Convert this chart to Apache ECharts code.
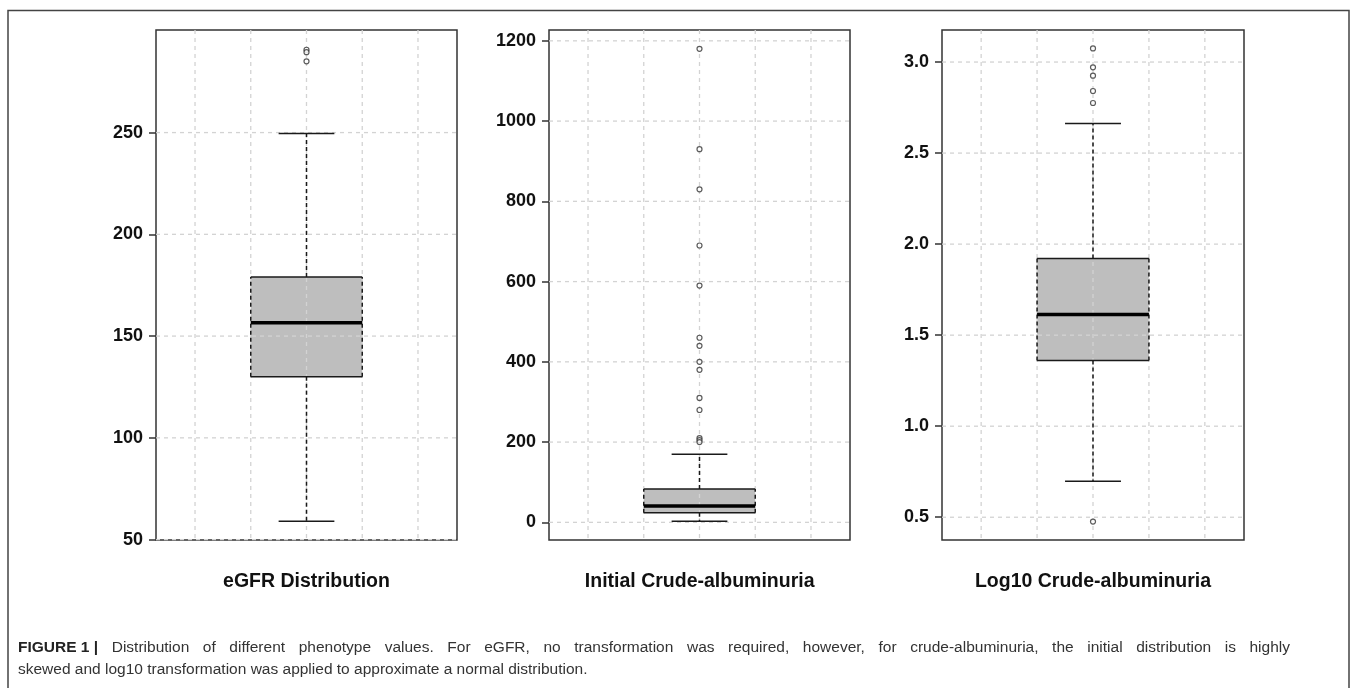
<!DOCTYPE html>
<html>
<head>
<meta charset="utf-8">
<script src="https://cdn.jsdelivr.net/npm/echarts@6/dist/echarts.min.js"></script>
<style>
html,body{margin:0;padding:0;background:#fff;}
#chart{width:1358px;height:688px;}
</style>
</head>
<body>
<div id="chart"></div>
<script>
// ---- data ----
const panelTitles = ['eGFR Distribution', 'Initial Crude-albuminuria', 'Log10 Crude-albuminuria'];
// [low whisker, Q1, median, Q3, high whisker]
const egfrBox = [59, 130, 156.5, 179, 249.5];
const egfrOutliers = [290.7, 289.5, 285];
const crudeBox = [2.5, 24, 41, 83, 170];
const crudeOutliers = [1180, 930, 830, 690, 590, 460, 440, 400, 380, 310, 280, 210, 205, 200];
const logBox = [0.698, 1.361, 1.614, 1.921, 2.663];
const logOutliers = [3.075, 2.971, 2.925, 2.841, 2.775, 0.476];
const egfrTicks = [50, 100, 150, 200, 250];
const crudeTicks = [0, 200, 400, 600, 800, 1000, 1200];
const logTicks = [0.5, 1.0, 1.5, 2.0, 2.5, 3.0];
const xGridValues = [0.6, 0.8, 1.0, 1.2, 1.4];
const captionBold = 'FIGURE 1 |';
const captionLine1 = 'Distribution of different phenotype values. For eGFR, no transformation was required, however, for crude-albuminuria, the initial distribution is highly';
const captionLine2 = 'skewed and log10 transformation was applied to approximate a normal distribution.';

// ---- chart ----
const chart = echarts.init(document.getElementById('chart'), null, {renderer: 'canvas'});

const panels = [
  {box: egfrBox, out: egfrOutliers, ticks: egfrTicks, min: 49.8, max: 300.4, fmt: v => String(v)},
  {box: crudeBox, out: crudeOutliers, ticks: crudeTicks, min: -44, max: 1227, fmt: v => String(v)},
  {box: logBox, out: logOutliers, ticks: logTicks, min: 0.375, max: 3.176, fmt: v => Number(v).toFixed(1)}
];
const gridPos = [
  {left: 156, top: 30, width: 301, height: 510},
  {left: 549, top: 30, width: 301, height: 510},
  {left: 942, top: 30, width: 302, height: 510}
];
const XMIN = 0.46, XMAX = 1.54;
const FONT = '"Liberation Sans", Arial, Helvetica, sans-serif';

function gridV(params, api) {
  const cs = params.coordSys;
  const p = api.coord([api.value(0), api.value(1)]);
  return {type: 'line', shape: {x1: p[0], y1: cs.y, x2: p[0], y2: cs.y + cs.height},
    style: {stroke: '#d3d3d3', lineWidth: 1.3, lineDash: [4, 4]}};
}
function gridH(params, api) {
  const cs = params.coordSys;
  const p = api.coord([api.value(0), api.value(1)]);
  return {type: 'line', shape: {x1: cs.x, y1: p[1], x2: cs.x + cs.width, y2: p[1]},
    style: {stroke: '#d3d3d3', lineWidth: 1.3, lineDash: [4, 4]}};
}
function renderBoxFill(params, api) {
  const x = api.value(0), q1 = api.value(2), q3 = api.value(4);
  const tl = api.coord([x - 0.2, q3]), br = api.coord([x + 0.2, q1]);
  return {type: 'rect', shape: {x: tl[0], y: tl[1], width: br[0] - tl[0], height: br[1] - tl[1]}, style: {fill: '#bebebe'}};
}
function renderBoxLines(params, api) {
  const x = api.value(0), lo = api.value(1), q1 = api.value(2), md = api.value(3), q3 = api.value(4), hi = api.value(5);
  const c = (a, b) => api.coord([a, b]);
  const ln = (p1, p2, style) => ({type: 'line', shape: {x1: p1[0], y1: p1[1], x2: p2[0], y2: p2[1]}, style});
  const solid = {stroke: '#1a1a1a', lineWidth: 1.5};
  const dashed = {stroke: '#1a1a1a', lineWidth: 1.5, lineDash: [4, 3]};
  return {type: 'group', children: [
    ln(c(x - 0.2, q3), c(x + 0.2, q3), solid),
    ln(c(x - 0.2, q1), c(x + 0.2, q1), solid),
    ln(c(x - 0.2, q1), c(x - 0.2, q3), dashed),
    ln(c(x + 0.2, q1), c(x + 0.2, q3), dashed),
    ln(c(x, q3), c(x, hi), dashed),
    ln(c(x, q1), c(x, lo), dashed),
    ln(c(x - 0.1, hi), c(x + 0.1, hi), solid),
    ln(c(x - 0.1, lo), c(x + 0.1, lo), solid),
    ln(c(x - 0.2, md), c(x + 0.2, md), {stroke: '#000', lineWidth: 3.5})
  ]};
}

const grids = [], xAxes = [], yAxes = [], series = [];
panels.forEach((p, i) => {
  grids.push(Object.assign({show: true, borderColor: '#333', borderWidth: 1.5, backgroundColor: 'transparent', containLabel: false}, gridPos[i]));
  xAxes.push({gridIndex: i, type: 'value', min: XMIN, max: XMAX, show: false});
  yAxes.push({
    gridIndex: i, type: 'value', min: p.min, max: p.max,
    axisLine: {show: false},
    splitLine: {show: false},
    axisTick: {show: true, inside: false, length: 7, lineStyle: {color: '#333', width: 1.5}, customValues: p.ticks},
    axisLabel: {show: true, customValues: p.ticks, margin: 13, color: '#111', fontSize: 18, fontWeight: 'bold', fontFamily: FONT, formatter: p.fmt, showMinLabel: true, showMaxLabel: true}
  });
  const boxData = [[1].concat(p.box)];
  series.push({type: 'custom', xAxisIndex: i, yAxisIndex: i, z: 2, silent: true, renderItem: renderBoxFill, data: boxData});
  series.push({type: 'custom', xAxisIndex: i, yAxisIndex: i, z: 3, silent: true, renderItem: gridV,
    data: xGridValues.map(v => [v, p.min])});
  series.push({type: 'custom', xAxisIndex: i, yAxisIndex: i, z: 3, silent: true, renderItem: gridH,
    data: p.ticks.map(v => [XMIN, v])});
  series.push({type: 'custom', xAxisIndex: i, yAxisIndex: i, z: 4, silent: true, renderItem: renderBoxLines, data: boxData});
  series.push({type: 'scatter', xAxisIndex: i, yAxisIndex: i, z: 5, silent: true,
    symbol: 'circle', symbolSize: 5,
    itemStyle: {color: '#fff', borderColor: '#333', borderWidth: 1.2},
    data: p.out.map(v => [1, v])});
});

const titleCenters = [306.5, 699.7, 1093];
const CAP_SIZE = 15.5;
const graphic = [
  {type: 'rect', silent: true, shape: {x: 8, y: 10.5, width: 1341, height: 700},
    style: {fill: null, stroke: '#444', lineWidth: 1.5}},
  {type: 'text', silent: true, x: 18, y: 670, style: {
    text: captionLine2, verticalAlign: 'middle', fontFamily: FONT, fontSize: CAP_SIZE, fill: '#333'}}
];

// justified first caption line (as in the reference)
(function () {
  const ctx = document.createElement('canvas').getContext('2d');
  const words = [{t: captionBold, bold: true}].concat(captionLine1.split(' ').map(w => ({t: w, bold: false})));
  let total = 0;
  words.forEach(w => {
    ctx.font = (w.bold ? 'bold ' : '') + CAP_SIZE + 'px ' + FONT;
    w.w = ctx.measureText(w.t).width;
    total += w.w;
  });
  const x0 = 18, x1 = 1290;
  const gap = (x1 - x0 - total) / (words.length - 1);
  let x = x0;
  words.forEach(w => {
    graphic.push({type: 'text', silent: true, x: x, y: 648, style: {
      text: w.t, verticalAlign: 'middle', fontFamily: FONT, fontSize: CAP_SIZE,
      fontWeight: w.bold ? 'bold' : 'normal', fill: w.bold ? '#222' : '#333'}});
    x += w.w + gap;
  });
})();

panelTitles.forEach((t, i) => {
  graphic.push({type: 'text', silent: true, x: titleCenters[i], y: 582, style: {
    text: t, align: 'center', verticalAlign: 'middle', fontFamily: FONT, fontSize: 19.5, fontWeight: 'bold', fill: '#111'}});
});

chart.setOption({
  animation: false,
  backgroundColor: '#fff',
  grid: grids,
  xAxis: xAxes,
  yAxis: yAxes,
  series: series,
  graphic: graphic
});
</script>
</body>
</html>
